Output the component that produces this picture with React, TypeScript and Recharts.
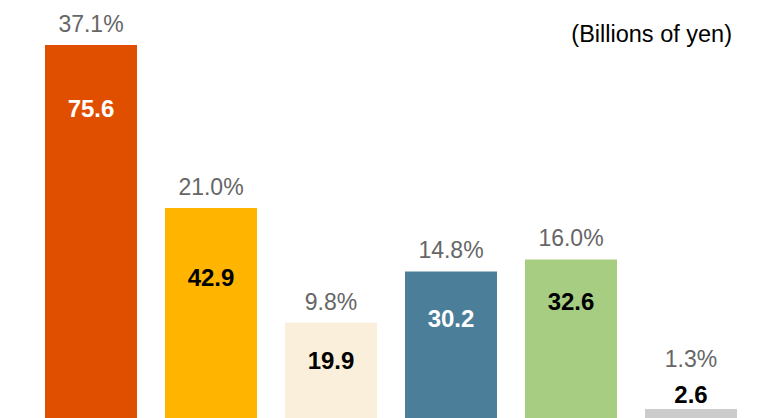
import React from "react";
import { BarChart, Bar, XAxis, YAxis, Cell, LabelList } from "recharts";

const categories = ["Segment A", "Segment B", "Segment C", "Segment D", "Segment E", "Other"];
const values = [75.6, 42.9, 19.9, 30.2, 32.6, 2.6];
const shares = ["37.1%", "21.0%", "9.8%", "14.8%", "16.0%", "1.3%"];

const barColors = ["#E04F00", "#FFB400", "#FAEFDA", "#4B7E99", "#A6CD82", "#CCCCCC"];
const valueColors = ["#FFFFFF", "#000000", "#000000", "#FFFFFF", "#000000", "#000000"];
// baseline of value label measured below bar top (negative = above)
const valueLabelDy = [72, 78, 46, 56, 51, -6];
// baseline of share label measured above bar top
const shareLabelDy = [13, 13, 13, 13, 13, 42];

const data = categories.map((c, i) => ({ name: c, value: values[i], share: shares[i] }));

const FONT = "'Liberation Sans', Arial, sans-serif";

const ValueLabel = (props: any) => {
  const { x, y, width, index, value } = props;
  return (
    <text
      x={x + width / 2}
      y={y + valueLabelDy[index]}
      textAnchor="middle"
      fontFamily={FONT}
      fontSize={24}
      fontWeight="bold"
      fill={valueColors[index]}
    >
      {Number(value).toFixed(1)}
    </text>
  );
};

const ShareLabel = (props: any) => {
  const { x, y, width, index } = props;
  return (
    <text
      x={x + width / 2}
      y={y - shareLabelDy[index]}
      textAnchor="middle"
      fontFamily={FONT}
      fontSize={23}
      fill="#666666"
    >
      {shares[index]}
    </text>
  );
};

export default function App() {
  return (
    <div
      style={{
        position: "absolute",
        top: 0,
        left: 0,
        width: 767,
        height: 418,
        overflow: "hidden",
        background: "#FFFFFF",
      }}
    >
      <BarChart
        width={767}
        height={422}
        data={data}
        margin={{ top: 0, right: 16, left: 31, bottom: 0 }}
      >
        <XAxis dataKey="name" hide />
        <YAxis hide domain={[0, 84.64]} />
        <Bar dataKey="value" barSize={92} isAnimationActive={false}>
          {data.map((d, i) => (
            <Cell key={d.name} fill={barColors[i]} />
          ))}
          <LabelList dataKey="value" content={ValueLabel} />
          <LabelList dataKey="share" content={ShareLabel} />
        </Bar>
        <text
          x={732}
          y={42}
          textAnchor="end"
          fontFamily={FONT}
          fontSize={23.5}
          fill="#000000"
        >
          (Billions of yen)
        </text>
      </BarChart>
    </div>
  );
}
